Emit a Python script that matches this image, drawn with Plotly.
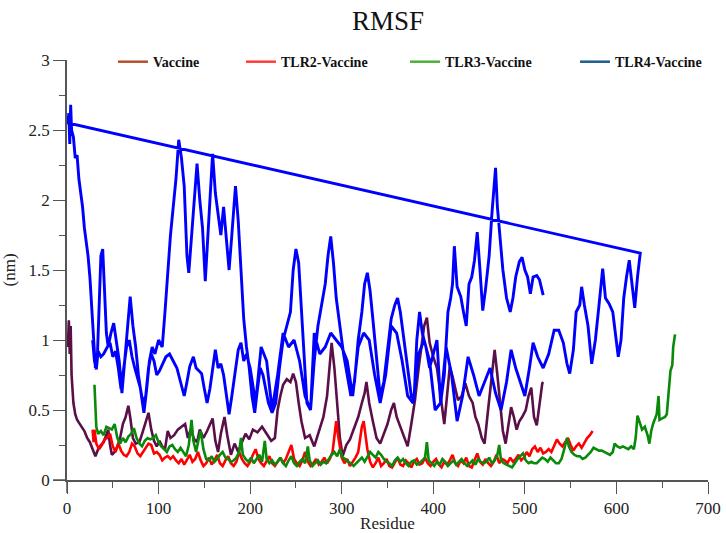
import plotly.graph_objects as go

# ---------------- data ----------------
vac_res = [1, 2, 3, 4, 5, 7, 9, 11, 13, 16, 19, 22, 25, 28, 31, 34, 37, 40, 43, 45, 47, 49, 52, 55, 58, 61, 64, 67, 69, 72, 75, 79, 82, 86, 89, 92, 95, 98, 101, 104, 107, 110, 113, 117, 121, 125, 129, 132, 135, 139, 142, 145, 149, 153, 156, 159, 162, 165, 168, 172, 175, 179, 183, 187, 191, 195, 199, 203, 208, 213, 218, 223, 227, 230, 233, 236, 240, 244, 247, 250, 253, 256, 260, 265, 270, 275, 280, 284, 287, 289, 292, 295, 298, 301, 305, 309, 314, 318, 322, 325, 327, 330, 334, 338, 342, 346, 350, 354, 357, 360, 364, 368, 372, 376, 380, 384, 387, 390, 393, 396, 400, 404, 408, 412, 415, 418, 421, 424, 427, 431, 435, 439, 443, 446, 449, 453, 456, 459, 462, 465, 467, 470, 473, 476, 479, 482, 485, 488, 491, 494, 497, 501, 504, 507, 510, 513, 516, 519, 520]
vac_val = [0.95, 1.14, 0.9, 1.1, 0.75, 0.55, 0.47, 0.43, 0.41, 0.38, 0.35, 0.3, 0.27, 0.22, 0.17, 0.22, 0.25, 0.27, 0.33, 0.36, 0.25, 0.18, 0.2, 0.24, 0.3, 0.4, 0.45, 0.53, 0.45, 0.3, 0.26, 0.27, 0.33, 0.42, 0.48, 0.36, 0.28, 0.24, 0.28, 0.24, 0.22, 0.35, 0.3, 0.32, 0.36, 0.38, 0.4, 0.3, 0.36, 0.29, 0.27, 0.36, 0.3, 0.35, 0.4, 0.44, 0.28, 0.2, 0.33, 0.45, 0.32, 0.18, 0.26, 0.2, 0.27, 0.33, 0.29, 0.36, 0.34, 0.38, 0.33, 0.28, 0.3, 0.5, 0.6, 0.68, 0.72, 0.7, 0.76, 0.7, 0.55, 0.42, 0.3, 0.32, 0.24, 0.35, 0.45, 0.6, 0.85, 0.98, 0.8, 0.55, 0.3, 0.17, 0.25, 0.29, 0.38, 0.45, 0.55, 0.62, 0.7, 0.55, 0.42, 0.3, 0.26, 0.33, 0.4, 0.5, 0.55, 0.45, 0.38, 0.3, 0.24, 0.4, 0.57, 0.8, 0.95, 1.1, 1.16, 0.98, 0.88, 0.8, 0.6, 0.4, 0.6, 0.81, 0.74, 0.65, 0.57, 0.6, 0.69, 0.6, 0.55, 0.45, 0.4, 0.3, 0.26, 0.45, 0.65, 0.85, 0.93, 0.75, 0.55, 0.35, 0.26, 0.4, 0.52, 0.45, 0.36, 0.42, 0.45, 0.5, 0.6, 0.66, 0.45, 0.39, 0.55, 0.69, 0.7]

tlr2_res = [28, 29, 30, 32, 35, 38, 41, 44, 47, 50, 53, 56, 59, 62, 65, 68, 71, 74, 77, 80, 83, 86, 89, 92, 95, 98, 101, 104, 107, 110, 113, 116, 119, 122, 125, 128, 131, 134, 137, 140, 143, 146, 149, 152, 155, 158, 161, 164, 167, 170, 173, 176, 179, 182, 185, 188, 191, 194, 197, 200, 203, 206, 209, 212, 215, 218, 221, 224, 227, 230, 233, 236, 239, 242, 245, 248, 251, 254, 257, 260, 263, 266, 269, 272, 275, 278, 281, 284, 287, 290, 292, 294, 296, 298, 300, 303, 306, 309, 312, 315, 318, 320, 322, 324, 326, 328, 331, 334, 337, 340, 343, 346, 349, 352, 355, 358, 361, 364, 367, 370, 373, 376, 379, 382, 385, 388, 391, 394, 397, 400, 403, 406, 409, 412, 415, 418, 421, 424, 427, 430, 433, 436, 439, 442, 445, 448, 451, 454, 457, 460, 463, 466, 469, 472, 475, 478, 481, 484, 487, 490, 493, 496, 499, 502, 505, 508, 511, 514, 517, 520, 523, 526, 529, 532, 535, 538, 541, 544, 547, 550, 553, 556, 559, 562, 565, 568, 571, 574]
tlr2_val = [0.36, 0.27, 0.36, 0.26, 0.22, 0.25, 0.29, 0.3, 0.33, 0.24, 0.2, 0.26, 0.21, 0.18, 0.17, 0.2, 0.26, 0.24, 0.19, 0.17, 0.2, 0.23, 0.26, 0.25, 0.19, 0.2, 0.18, 0.14, 0.16, 0.17, 0.15, 0.17, 0.14, 0.12, 0.15, 0.11, 0.15, 0.18, 0.13, 0.15, 0.2, 0.14, 0.1, 0.12, 0.16, 0.11, 0.14, 0.18, 0.12, 0.1, 0.14, 0.17, 0.12, 0.1, 0.13, 0.2, 0.15, 0.12, 0.1, 0.13, 0.18, 0.22, 0.15, 0.12, 0.1, 0.14, 0.17, 0.12, 0.1, 0.13, 0.16, 0.12, 0.15, 0.2, 0.25, 0.15, 0.12, 0.1, 0.14, 0.2, 0.13, 0.1, 0.12, 0.15, 0.11, 0.13, 0.16, 0.12, 0.15, 0.2, 0.3, 0.42, 0.32, 0.22, 0.16, 0.12, 0.15, 0.1, 0.13, 0.16, 0.2, 0.3, 0.38, 0.42, 0.33, 0.22, 0.13, 0.09, 0.12, 0.16, 0.1, 0.12, 0.15, 0.1, 0.09, 0.13, 0.16, 0.11, 0.1, 0.14, 0.12, 0.09, 0.13, 0.15, 0.11, 0.12, 0.16, 0.12, 0.1, 0.13, 0.15, 0.11, 0.09, 0.13, 0.11, 0.14, 0.18, 0.12, 0.1, 0.14, 0.12, 0.16, 0.1, 0.09, 0.14, 0.19, 0.13, 0.11, 0.15, 0.12, 0.1, 0.13, 0.18, 0.12, 0.15, 0.14, 0.12, 0.16, 0.13, 0.15, 0.18, 0.14, 0.16, 0.2, 0.17, 0.22, 0.24, 0.2, 0.23, 0.19, 0.2, 0.22, 0.2, 0.25, 0.29, 0.26, 0.24, 0.27, 0.3, 0.25, 0.21, 0.24, 0.26, 0.23, 0.27, 0.3, 0.32, 0.35]

tlr3_res = [30, 31, 32, 34, 37, 40, 43, 46, 49, 52, 55, 58, 61, 64, 67, 70, 73, 76, 79, 82, 85, 88, 91, 94, 97, 100, 103, 106, 109, 112, 115, 118, 121, 124, 127, 130, 133, 136, 138, 141, 144, 146, 149, 152, 155, 158, 161, 164, 167, 170, 173, 176, 179, 182, 185, 188, 190, 192, 195, 198, 201, 204, 207, 210, 213, 216, 218, 221, 224, 227, 230, 233, 236, 239, 242, 245, 248, 251, 254, 257, 260, 263, 265, 268, 271, 274, 277, 280, 283, 286, 289, 292, 295, 298, 301, 304, 307, 310, 313, 316, 319, 322, 325, 328, 331, 334, 337, 340, 343, 346, 349, 352, 355, 358, 361, 364, 367, 370, 373, 376, 379, 382, 385, 388, 391, 393, 395, 398, 401, 404, 407, 410, 413, 416, 419, 422, 425, 428, 431, 434, 437, 440, 443, 446, 449, 452, 455, 458, 461, 464, 467, 470, 472, 474, 477, 480, 483, 486, 489, 492, 495, 498, 501, 504, 507, 510, 513, 516, 519, 522, 525, 528, 531, 534, 537, 540, 543, 546, 548, 551, 554, 557, 560, 563, 566, 569, 572, 575, 578, 581, 584, 587, 590, 593, 596, 598, 601, 604, 607, 610, 613, 616, 619, 621, 623, 625, 628, 631, 634, 636, 638, 640, 642, 644, 646, 647, 650, 653, 655, 657, 659, 661, 662, 664]
tlr3_val = [0.68, 0.5, 0.38, 0.33, 0.35, 0.32, 0.38, 0.37, 0.36, 0.4, 0.3, 0.26, 0.3, 0.27, 0.31, 0.33, 0.37, 0.3, 0.26, 0.24, 0.28, 0.3, 0.29, 0.3, 0.32, 0.27, 0.24, 0.22, 0.2, 0.24, 0.25, 0.22, 0.2, 0.23, 0.2, 0.17, 0.25, 0.43, 0.28, 0.2, 0.3, 0.35, 0.22, 0.15, 0.14, 0.17, 0.13, 0.15, 0.18, 0.2, 0.16, 0.15, 0.13, 0.14, 0.16, 0.2, 0.3, 0.18, 0.15, 0.13, 0.16, 0.12, 0.15, 0.18, 0.13, 0.28, 0.15, 0.12, 0.14, 0.11, 0.13, 0.16, 0.12, 0.1, 0.14, 0.17, 0.12, 0.1, 0.13, 0.15, 0.12, 0.24, 0.14, 0.1, 0.12, 0.14, 0.11, 0.13, 0.12, 0.15, 0.18, 0.2, 0.17, 0.22, 0.16, 0.15, 0.13, 0.12, 0.1, 0.12, 0.14, 0.16, 0.13, 0.17, 0.2, 0.18, 0.16, 0.2, 0.18, 0.15, 0.13, 0.12, 0.1, 0.14, 0.16, 0.13, 0.15, 0.12, 0.1, 0.13, 0.14, 0.11, 0.12, 0.14, 0.16, 0.27, 0.14, 0.12, 0.1, 0.13, 0.11, 0.15, 0.13, 0.1, 0.12, 0.14, 0.11, 0.13, 0.15, 0.12, 0.1, 0.12, 0.14, 0.11, 0.15, 0.13, 0.12, 0.13, 0.16, 0.12, 0.14, 0.18, 0.25, 0.14, 0.12, 0.11, 0.1, 0.09, 0.12, 0.15, 0.17, 0.19, 0.14, 0.12, 0.13, 0.12, 0.12, 0.14, 0.16, 0.15, 0.13, 0.16, 0.14, 0.12, 0.12, 0.15, 0.22, 0.3, 0.24, 0.2, 0.18, 0.17, 0.17, 0.15, 0.16, 0.18, 0.2, 0.23, 0.22, 0.21, 0.21, 0.2, 0.19, 0.18, 0.2, 0.26, 0.24, 0.23, 0.24, 0.23, 0.22, 0.24, 0.22, 0.3, 0.46, 0.42, 0.36, 0.38, 0.32, 0.26, 0.35, 0.4, 0.44, 0.47, 0.6, 0.43, 0.44, 0.45, 0.47, 0.62, 0.78, 0.82, 0.95, 1.04]

# TLR4-Vaccine: second chain (residues 28-626) followed by the first chain (1-520)
tlr4_res = [28, 30, 32, 34, 37, 40, 44, 47, 50, 53, 56, 59, 62, 65, 68, 71, 74, 77, 80, 83, 86, 89, 92, 95, 98, 101, 104, 108, 112, 116, 120, 124, 128, 131, 134, 138, 141, 144, 147, 150, 153, 156, 159, 162, 165, 168, 171, 174, 177, 180, 183, 187, 190, 193, 196, 200, 206, 212, 218, 224, 230, 236, 242, 248, 254, 260, 266, 270, 276, 282, 288, 294, 300, 306, 312, 318, 324, 330, 336, 342, 348, 354, 360, 366, 372, 378, 384, 390, 396, 402, 408, 414, 420, 426, 432, 438, 444, 450, 456, 462, 468, 474, 480, 485, 490, 495, 500, 505, 509, 514, 520, 526, 532, 537, 542, 546, 549, 553, 556, 560, 562, 565, 569, 573, 577, 581, 585, 588, 592, 596, 600, 602, 605, 608, 611, 614, 617, 620, 623, 626,
            1, 2, 3, 4, 5, 7, 9, 11, 13, 15, 17, 19, 21, 23, 25, 27, 29, 31, 33, 35, 37, 39, 41, 43, 45, 48, 51, 54, 57, 60, 63, 66, 69, 72, 75, 78, 81, 84, 87, 90, 93, 96, 100, 104, 107, 110, 113, 116, 119, 122, 125, 128, 131, 133, 136, 139, 142, 145, 148, 151, 154, 157, 159, 162, 165, 168, 171, 174, 177, 180, 184, 187, 190, 193, 196, 199, 202, 205, 208, 211, 214, 217, 220, 224, 228, 232, 236, 240, 244, 247, 250, 253, 256, 259, 262, 266, 270, 274, 278, 282, 285, 288, 291, 294, 298, 302, 306, 310, 314, 318, 322, 325, 328, 331, 334, 338, 342, 346, 350, 354, 358, 361, 364, 368, 372, 376, 379, 382, 385, 388, 392, 396, 400, 404, 408, 412, 416, 419, 421, 423, 426, 430, 433, 436, 439, 442, 445, 448, 451, 454, 457, 461, 464, 466, 468, 470, 473, 476, 480, 484, 487, 490, 494, 497, 500, 503, 506, 509, 513, 516, 520]
tlr4_val = [1.0, 0.85, 0.79, 0.92, 0.88, 0.9, 0.95, 0.98, 0.88, 0.92, 0.8, 0.65, 0.8, 0.95, 1.0, 0.88, 0.8, 0.72, 0.66, 0.55, 0.6, 0.8, 0.9, 0.85, 0.75, 0.78, 0.82, 0.88, 0.9, 0.85, 0.8, 0.7, 0.6, 0.7, 0.81, 0.88, 0.8, 0.78, 0.76, 0.65, 0.55, 0.65, 0.8, 0.93, 0.8, 0.83, 0.75, 0.6, 0.47, 0.6, 0.74, 0.93, 0.98, 0.85, 0.9, 0.8, 0.55, 0.95, 0.85, 0.5, 0.75, 1.05, 0.95, 1.0, 0.85, 0.6, 0.5, 1.05, 0.9, 0.95, 1.05, 1.0, 0.95, 0.85, 0.6, 0.95, 1.05, 1.0, 0.75, 0.55, 0.75, 1.1, 1.05, 0.85, 0.6, 0.55, 0.9, 1.0, 0.85, 0.5, 0.55, 0.95, 0.75, 0.42, 0.6, 0.88, 0.75, 0.6, 0.7, 0.8, 0.62, 0.5, 0.7, 0.93, 0.8, 0.7, 0.6, 0.8, 0.98, 0.88, 0.8, 0.9, 1.07, 1.07, 0.98, 0.83, 0.76, 0.93, 1.2, 1.25, 1.38, 1.25, 1.1, 0.83, 1.0, 1.25, 1.51, 1.3, 1.26, 1.2, 1.0, 0.88, 1.0, 1.3, 1.45, 1.57, 1.4, 1.23, 1.45, 1.62,
            2.55, 2.62, 2.4, 2.68, 2.5, 2.45, 2.3, 2.32, 2.15, 2.05, 1.95, 1.8, 1.7, 1.6, 1.45, 1.2, 0.95, 0.8, 0.85, 1.25, 1.6, 1.65, 1.35, 1.05, 0.95, 1.05, 1.12, 1.0, 0.85, 0.62, 0.85, 1.1, 1.31, 1.1, 0.95, 0.75, 0.6, 0.48, 0.65, 0.85, 0.95, 0.9, 1.0, 0.95, 1.2, 1.5, 1.75, 1.95, 2.15, 2.43, 2.3, 2.1, 1.6, 1.48, 1.75, 2.05, 2.26, 2.0, 1.8, 1.42, 1.75, 2.15, 2.33, 2.05, 1.9, 1.75, 1.95, 1.7, 1.5, 1.75, 2.1, 1.85, 1.45, 1.15, 0.95, 0.8, 0.6, 0.48, 0.65, 0.8, 0.75, 0.65, 0.55, 0.48, 0.55, 0.8, 1.0, 1.1, 1.2, 1.5, 1.65, 1.55, 1.2, 0.85, 0.55, 0.5, 0.85, 1.1, 1.25, 1.4, 1.6, 1.74, 1.55, 1.3, 1.1, 0.9, 0.75, 0.6, 0.7, 1.0, 1.2, 1.4, 1.48, 1.35, 1.15, 0.85, 0.6, 0.7, 0.95, 1.15, 1.25, 1.3, 1.2, 1.0, 0.8, 0.6, 0.58, 1.0, 1.2, 1.05, 0.95, 0.8, 0.9, 1.0, 0.55, 0.75, 1.2, 1.3, 1.4, 1.67, 1.38, 1.31, 1.2, 1.1, 1.4, 1.45, 1.57, 1.77, 1.5, 1.21, 1.36, 1.6, 1.9, 2.1, 2.23, 1.95, 1.69, 1.5, 1.3, 1.2, 1.3, 1.45, 1.56, 1.59, 1.5, 1.45, 1.33, 1.45, 1.46, 1.43, 1.32]

series_names = ["Vaccine", "TLR2-Vaccine", "TLR3-Vaccine", "TLR4-Vaccine"]
line_colors = ["#5b0f48", "#ff0000", "#0a8a0a", "#0000ff"]
line_widths = [2.6, 2.6, 2.6, 2.9]
legend_colors = ["#b4502c", "#ff3b3b", "#4caf3a", "#1b5e8c"]

x_ticks = [0, 100, 200, 300, 400, 500, 600, 700]
y_ticks = [0, 0.5, 1, 1.5, 2, 2.5, 3]
y_tick_text = ["0", "0.5", "1", "1.5", "2", "2.5", "3"]

SERIF = "Liberation Serif, Times New Roman, serif"

fig = go.Figure()
data = [(vac_res, vac_val), (tlr2_res, tlr2_val), (tlr3_res, tlr3_val), (tlr4_res, tlr4_val)]
for (xs, ys), col, lw in zip(data, line_colors, line_widths):
    fig.add_trace(go.Scatter(x=xs, y=ys, mode="lines", showlegend=False,
                             line=dict(color=col, width=lw)))

# legend entries (the reference legend uses lighter colours than the lines)
legend_ids = ["legend", "legend2", "legend3", "legend4"]
for name, col, lid in zip(series_names, legend_colors, legend_ids):
    fig.add_trace(go.Scatter(x=[None], y=[None], mode="lines", name=name,
                             line=dict(color=col, width=2.5), legend=lid, showlegend=True))

leg_x_px = [113, 241, 405, 575]
plot_l, plot_w = 67, 641
leg_common = dict(orientation="h", yanchor="middle", y=0.995, xanchor="left",
                  font=dict(family=SERIF, size=14, color="#111", weight="bold"),
                  bgcolor="rgba(0,0,0,0)", borderwidth=0, itemwidth=30)
layout_legends = {}
for lid, px in zip(legend_ids, leg_x_px):
    d = dict(leg_common)
    d["x"] = (px - plot_l) / plot_w
    layout_legends[lid] = d

fig.update_layout(
    width=726, height=533,
    margin=dict(l=67, r=18, t=60, b=53, autoexpand=False),
    paper_bgcolor="white", plot_bgcolor="white",
    title=dict(text="RMSF", x=388 / 726, xanchor="center", y=1 - 21 / 533, yanchor="middle",
               font=dict(family=SERIF, size=27, color="#111")),
    xaxis=dict(range=[0, 700], tickvals=x_ticks, ticks="outside", ticklen=12, tickwidth=1.2,
               tickcolor="#555", showline=True, linecolor="#555", linewidth=1.5,
               showgrid=False, zeroline=False, automargin=False,
               minor=dict(dtick=50, ticks="outside", ticklen=6, tickcolor="#555", tickwidth=1.2),
               tickfont=dict(family=SERIF, size=17, color="#222"),
               title=dict(text="Residue", font=dict(family=SERIF, size=17, color="#222"), standoff=4)),
    yaxis=dict(range=[0, 3], tickvals=y_ticks, ticktext=y_tick_text, ticks="outside", ticklen=12,
               tickwidth=1.2, tickcolor="#555", showline=True, linecolor="#555", linewidth=1.5,
               showgrid=False, zeroline=False, automargin=False,
               minor=dict(dtick=0.25, ticks="outside", ticklen=6, tickcolor="#555", tickwidth=1.2),
               tickfont=dict(family=SERIF, size=17, color="#222"),
               title=dict(text="(nm)", font=dict(family=SERIF, size=17, color="#222"), standoff=10)),
    **layout_legends,
)

# small overhang of the axis lines past the origin, as in the reference
fig.add_shape(type="line", xref="paper", yref="paper", x0=-14 / 641, x1=0, y0=0, y1=0,
              line=dict(color="#555", width=1.5))
fig.add_shape(type="line", xref="paper", yref="paper", x0=0, x1=0, y0=-13 / 420, y1=0,
              line=dict(color="#555", width=1.5))

fig.write_html("out.html")
